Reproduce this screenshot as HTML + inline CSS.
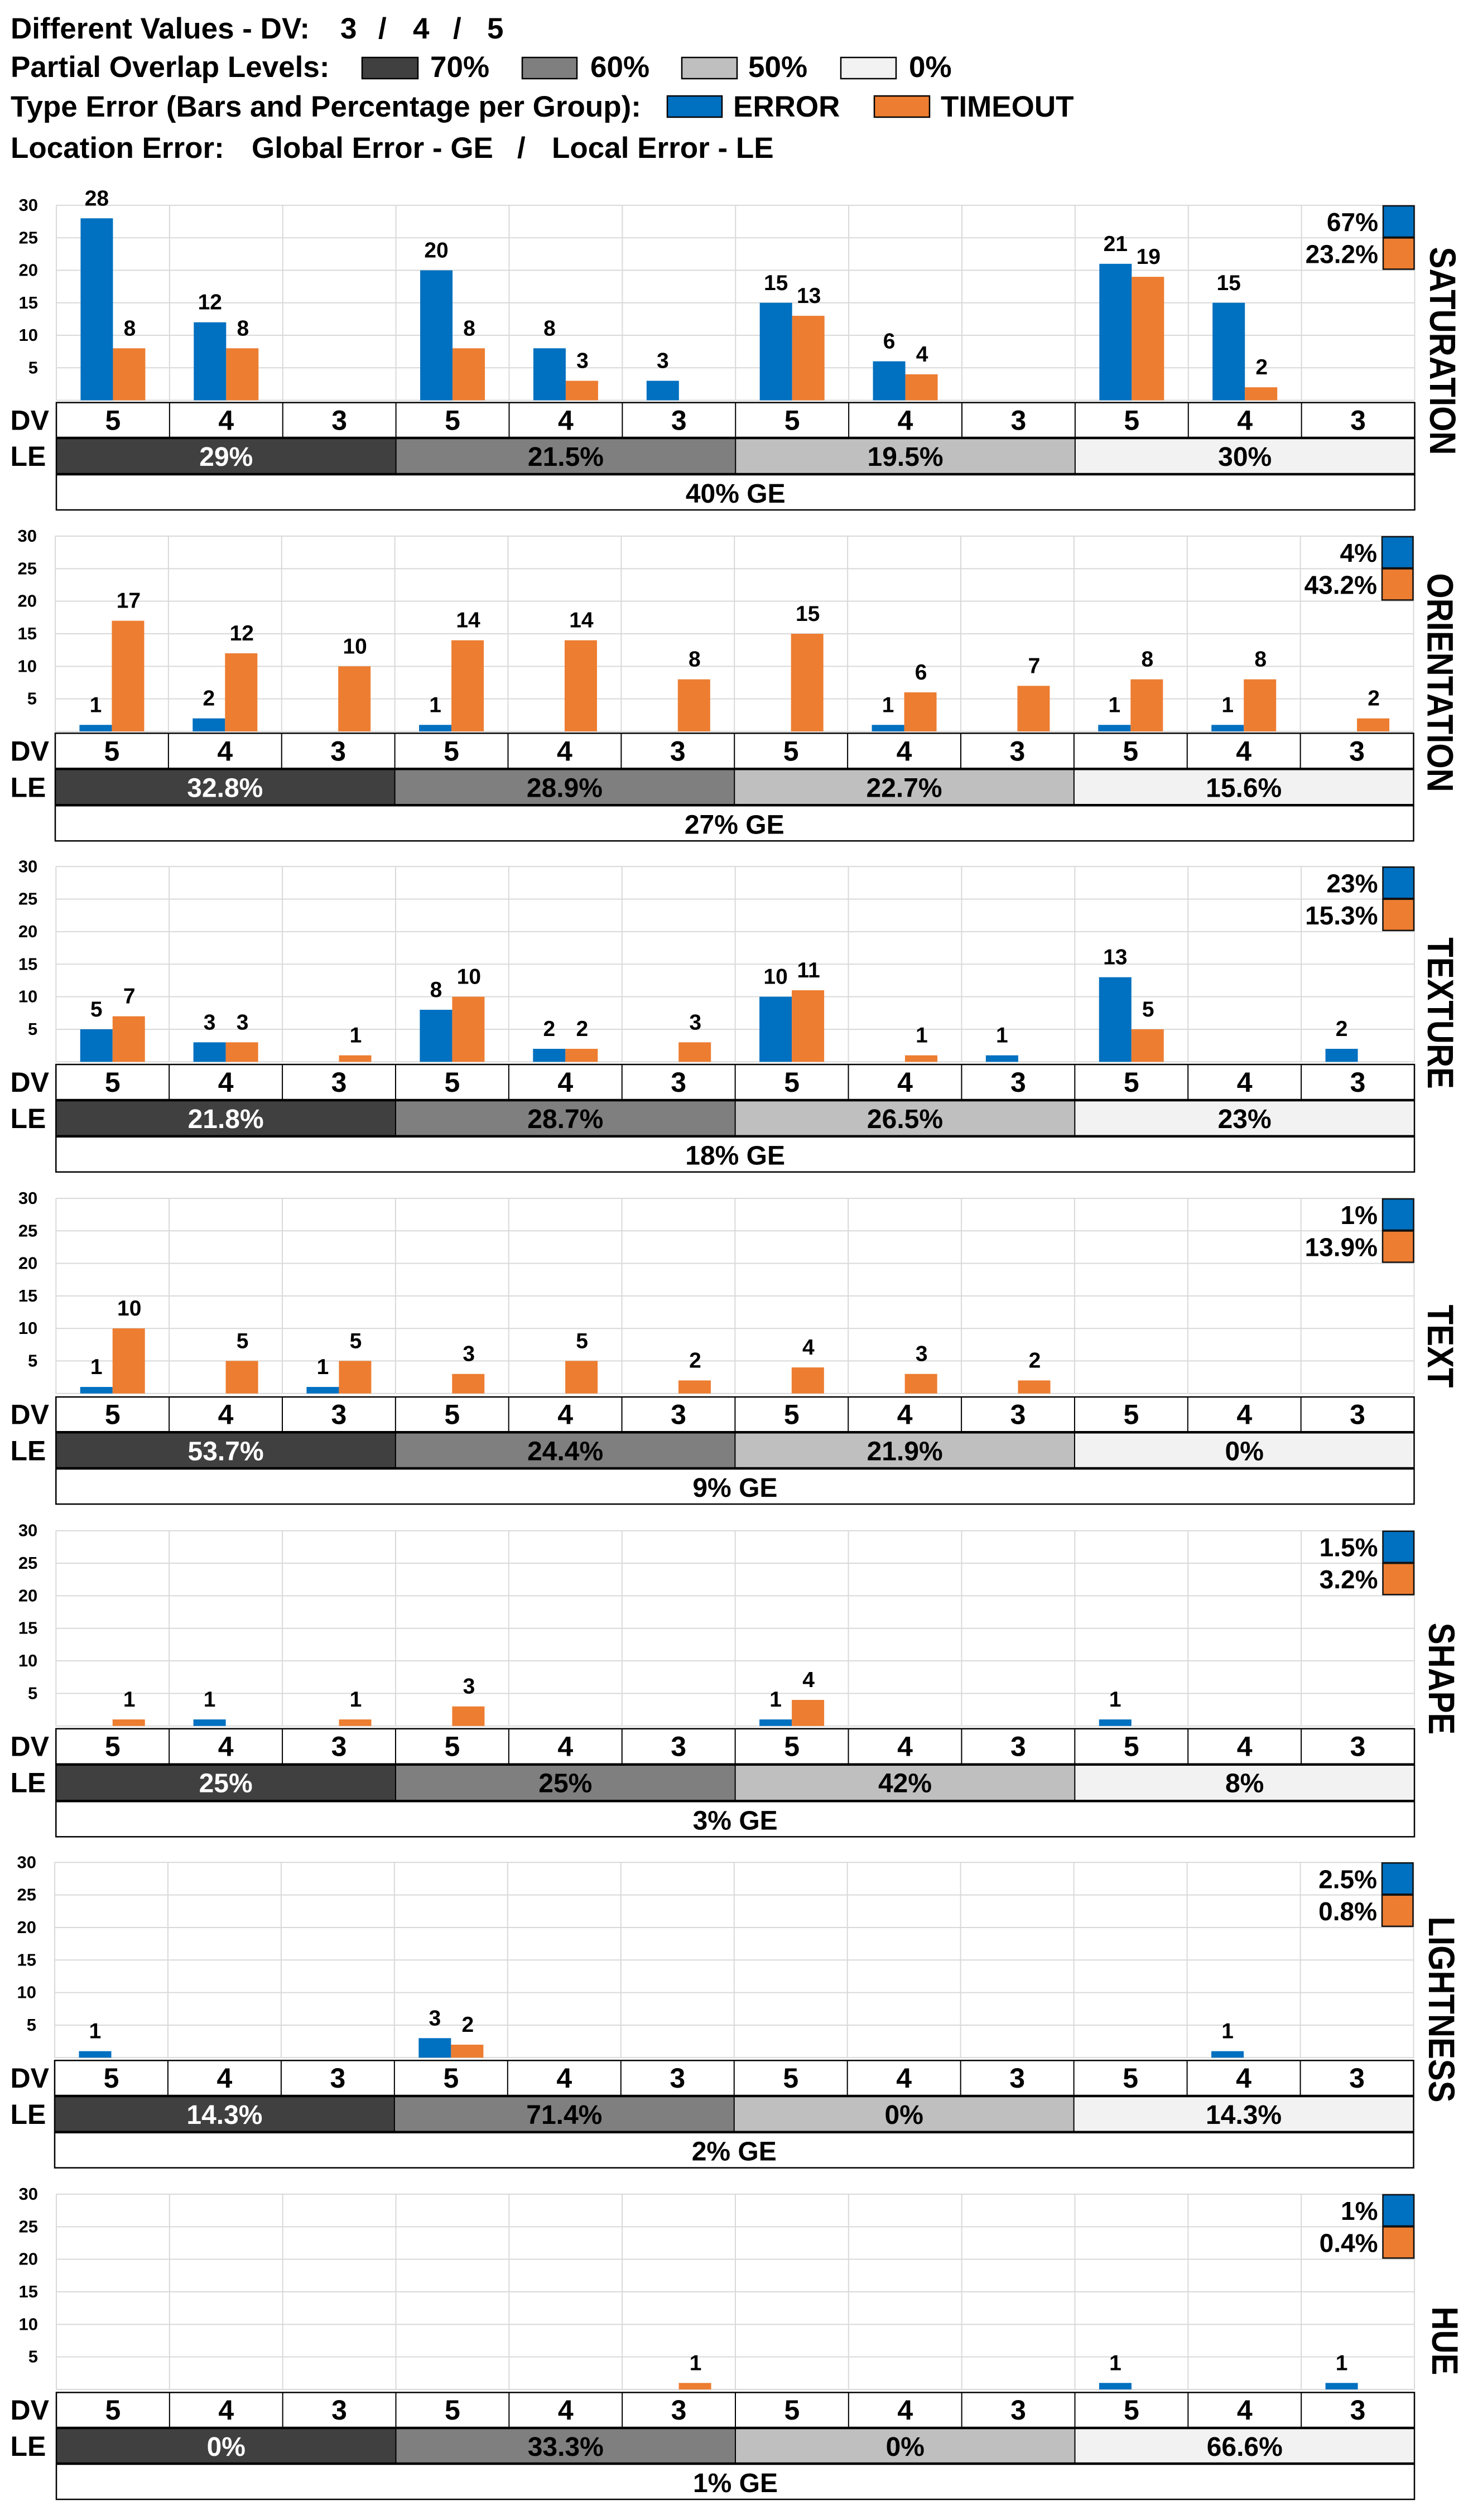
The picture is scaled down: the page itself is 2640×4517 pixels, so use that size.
<!DOCTYPE html>
<html lang="en">
<head>
<meta charset="utf-8">
<title>Error distribution by visual channel</title>
<style>
  html, body { margin: 0; padding: 0; background: #ffffff; }
  svg { display: block; }
  text { font-family: "Liberation Sans", Arial, sans-serif; font-weight: bold; fill: #000000; }
</style>
</head>
<body>
<svg id="chart" xmlns="http://www.w3.org/2000/svg" width="2640" height="4517" viewBox="0 0 2640 4517">
  <rect x="0" y="0" width="2640" height="4517" fill="#ffffff"/>
  <g font-size="53">
    <text x="19" y="69">Different Values - DV:</text>
    <text x="610" y="69">3</text>
    <text x="678" y="69">/</text>
    <text x="740" y="69">4</text>
    <text x="812" y="69">/</text>
    <text x="873" y="69">5</text>

    <text x="19" y="138">Partial Overlap Levels:</text>
    <rect x="649" y="103" width="100" height="38" fill="#404040" stroke="#000" stroke-width="2.5"/>
    <text x="771" y="138">70%</text>
    <rect x="936" y="103" width="98" height="38" fill="#7f7f7f" stroke="#000" stroke-width="2.5"/>
    <text x="1058" y="138">60%</text>
    <rect x="1222" y="103" width="99" height="38" fill="#bfbfbf" stroke="#000" stroke-width="2.5"/>
    <text x="1341" y="138">50%</text>
    <rect x="1507" y="103" width="99" height="38" fill="#f2f2f2" stroke="#000" stroke-width="2.5"/>
    <text x="1629" y="138">0%</text>

    <text x="19" y="209">Type Error (Bars and Percentage per Group):</text>
    <rect x="1196" y="172" width="98" height="38" fill="#0070c0" stroke="#000" stroke-width="2.5"/>
    <text x="1314" y="209">ERROR</text>
    <rect x="1567" y="172" width="99" height="38" fill="#ed7d31" stroke="#000" stroke-width="2.5"/>
    <text x="1686" y="209">TIMEOUT</text>

    <text x="19" y="283">Location Error:</text>
    <text x="451" y="283">Global Error - GE</text>
    <text x="927" y="283">/</text>
    <text x="989" y="283">Local Error - LE</text>
  </g>
  <g id="panels"></g>
</svg>
<script>
// ---- Shared axis data ----
const yTicks = [5, 10, 15, 20, 25, 30];
const yMax = 30;
const dvCategories = ['5', '4', '3', '5', '4', '3', '5', '4', '3', '5', '4', '3'];

// ---- Series values (12 groups: DV 5/4/3 for each overlap level) ----
const saturationError = [28, 12, 0, 20, 8, 3, 15, 6, 0, 21, 15, 0];
const saturationTimeout = [8, 8, 0, 8, 3, 0, 13, 4, 0, 19, 2, 0];
const orientationError = [1, 2, 0, 1, 0, 0, 0, 1, 0, 1, 1, 0];
const orientationTimeout = [17, 12, 10, 14, 14, 8, 15, 6, 7, 8, 8, 2];
const textureError = [5, 3, 0, 8, 2, 0, 10, 0, 1, 13, 0, 2];
const textureTimeout = [7, 3, 1, 10, 2, 3, 11, 1, 0, 5, 0, 0];
const textError = [1, 0, 1, 0, 0, 0, 0, 0, 0, 0, 0, 0];
const textTimeout = [10, 5, 5, 3, 5, 2, 4, 3, 2, 0, 0, 0];
const shapeError = [0, 1, 0, 0, 0, 0, 1, 0, 0, 1, 0, 0];
const shapeTimeout = [1, 0, 1, 3, 0, 0, 4, 0, 0, 0, 0, 0];
const lightnessError = [1, 0, 0, 3, 0, 0, 0, 0, 0, 0, 1, 0];
const lightnessTimeout = [0, 0, 0, 2, 0, 0, 0, 0, 0, 0, 0, 0];
const hueError = [0, 0, 0, 0, 0, 0, 0, 0, 0, 1, 0, 1];
const hueTimeout = [0, 0, 0, 0, 0, 1, 0, 0, 0, 0, 0, 0];

// ---- Printed percentages ----
const saturationLE = ['29%', '21.5%', '19.5%', '30%'];
const orientationLE = ['32.8%', '28.9%', '22.7%', '15.6%'];
const textureLE = ['21.8%', '28.7%', '26.5%', '23%'];
const textLE = ['53.7%', '24.4%', '21.9%', '0%'];
const shapeLE = ['25%', '25%', '42%', '8%'];
const lightnessLE = ['14.3%', '71.4%', '0%', '14.3%'];
const hueLE = ['0%', '33.3%', '0%', '66.6%'];
const geLabels = ['40% GE', '27% GE', '18% GE', '9% GE', '3% GE', '2% GE', '1% GE'];
const errorShares = ['67%', '4%', '23%', '1%', '1.5%', '2.5%', '1%'];
const timeoutShares = ['23.2%', '43.2%', '15.3%', '13.9%', '3.2%', '0.8%', '0.4%'];
const channelTitles = ['SATURATION', 'ORIENTATION', 'TEXTURE', 'TEXT', 'SHAPE', 'LIGHTNESS', 'HUE'];

const errorSeries = [saturationError, orientationError, textureError, textError, shapeError, lightnessError, hueError];
const timeoutSeries = [saturationTimeout, orientationTimeout, textureTimeout, textTimeout, shapeTimeout, lightnessTimeout, hueTimeout];
const leSeries = [saturationLE, orientationLE, textureLE, textLE, shapeLE, lightnessLE, hueLE];

// ---- Layout (separate from data) ----
const frames = [
  { top: 368, bottom: 717.5, left: 101, right: 2535.5, table: 721.6, dv: 785, le: 850, titleX: 2563, titleY: 629 },
  { top: 961, bottom: 1311, left: 99, right: 2533.5, table: 1314.3, dv: 1378.3, le: 1443.3, titleX: 2558.5, titleY: 1223.5 },
  { top: 1553.3, bottom: 1903.3, left: 100.3, right: 2535, table: 1908, dv: 1972, le: 2036.7, titleX: 2559, titleY: 1816 },
  { top: 2148, bottom: 2497.7, left: 100.3, right: 2534.5, table: 2504, dv: 2567.3, le: 2632, titleX: 2559, titleY: 2413 },
  { top: 2743.7, bottom: 3093.7, left: 100.3, right: 2535, table: 3098.7, dv: 3162.7, le: 3228.3, titleX: 2561, titleY: 3009 },
  { top: 3338.3, bottom: 3688.3, left: 98, right: 2533.5, table: 3693.3, dv: 3757, le: 3821.7, titleX: 2561, titleY: 3602 },
  { top: 3933, bottom: 4283, left: 101, right: 2535, table: 4288.4, dv: 4352, le: 4416, titleX: 2567, titleY: 4196 }
];
const BAR_W = 58;
const ROW_GE = 64;
const GRID = '#d9d9d9';
const ERROR_COLOR = '#0070c0';
const TIMEOUT_COLOR = '#ed7d31';
const LEVEL_FILLS = ['#404040', '#7f7f7f', '#bfbfbf', '#f2f2f2'];
const LEVEL_INK = ['#ffffff', '#000000', '#000000', '#000000'];

const NS = 'http://www.w3.org/2000/svg';
const root = document.getElementById('panels');

function make(tag, parent, props, content) {
  const el = document.createElementNS(NS, tag);
  for (const k in props) el.setAttribute(k, props[k]);
  if (content !== undefined) el.textContent = content;
  parent.appendChild(el);
  return el;
}
function yScale(f, v) { return f.bottom - (v / yMax) * (f.bottom - f.top); }
function cellW(f) { return (f.right - f.left) / dvCategories.length; }
function xCell(f, i) { return f.left + i * cellW(f); }
function xCenter(f, i) { return xCell(f, i) + cellW(f) / 2; }

function drawGrid(g, f, key) {
  const grid = make('g', g, { stroke: GRID, 'stroke-width': 2, fill: 'none' });
  
  
  [0].concat(yTicks).forEach(function (t) {
    const y = yScale(f, t);
    const line = make('line', grid, { x1: f.left, x2: f.right, y1: y, y2: y });
    
    
  });
  for (let i = 0; i <= dvCategories.length; i++) {
    const x = xCell(f, i);
    const line = make('line', grid, { x1: x, x2: x, y1: f.top, y2: f.bottom });
    
    
  }
  yTicks.forEach(function (t) {
    const label = make('text', g, { x: f.left - 33, y: yScale(f, t) + 10, 'text-anchor': 'end', 'font-size': 31 }, String(t));
    
    
  });
}

function drawBars(g, f, key, errors, timeouts) {
  dvCategories.forEach(function (_, i) {
    const c = xCenter(f, i);
    if (errors[i] > 0) {
      const top = yScale(f, errors[i]);
      const bar = make('rect', g, { x: c - BAR_W, y: top, width: BAR_W, height: f.bottom - top, fill: ERROR_COLOR });
      
      
      const val = make('text', g, { x: c - BAR_W / 2, y: top - 23, 'text-anchor': 'middle', 'font-size': 39 }, String(errors[i]));
      
      
    }
    if (timeouts[i] > 0) {
      const top = yScale(f, timeouts[i]);
      const bar = make('rect', g, { x: c, y: top, width: BAR_W, height: f.bottom - top, fill: TIMEOUT_COLOR });
      
      
      const val = make('text', g, { x: c + BAR_W / 2 + 1, y: top - 23, 'text-anchor': 'middle', 'font-size': 39 }, String(timeouts[i]));
      
      
    }
  });
}

function drawTable(g, f, key, leLabels, geLabel) {
  const ge = f.le + ROW_GE;
  const w = f.right - f.left;
  const table = make('g', g, {});
  
  

  const rowLabelDV = make('text', table, { x: 18.5, y: (f.table + f.dv) / 2 + 17, 'font-size': 50 }, 'DV');
  
  
  const rowLabelLE = make('text', table, { x: 18.5, y: f.dv + 50, 'font-size': 50 }, 'LE');
  
  

  leLabels.forEach(function (txt, i) {
    const x0 = xCell(f, i * 3);
    const x1 = xCell(f, (i + 1) * 3);
    const cell = make('rect', table, { x: x0, y: f.dv, width: x1 - x0, height: f.le - f.dv, fill: LEVEL_FILLS[i] });
    
    
    const label = make('text', table, { x: (x0 + x1) / 2, y: f.dv + 50, 'text-anchor': 'middle', 'font-size': 48 }, txt);
    label.style.fill = LEVEL_INK[i];
    
    
    if (i > 0) {
      const sep = make('line', table, { x1: x0, x2: x0, y1: f.dv, y2: f.le, stroke: '#000', 'stroke-width': 2 });
      
      
    }
  });

  dvCategories.forEach(function (cat, i) {
    const label = make('text', table, { x: xCenter(f, i), y: (f.table + f.dv) / 2 + 17, 'text-anchor': 'middle', 'font-size': 50 }, cat);
    
    
    if (i > 0) {
      const x = xCell(f, i);
      const sep = make('line', table, { x1: x, x2: x, y1: f.table, y2: f.dv, stroke: '#000', 'stroke-width': 2 });
      
      
    }
  });

  const geLabelEl = make('text', table, { x: f.left + w / 2, y: f.le + 51, 'text-anchor': 'middle', 'font-size': 48 }, geLabel);
  
  

  const frame = make('rect', table, { x: f.left, y: f.table, width: w, height: ge - f.table, fill: 'none', stroke: '#000', 'stroke-width': 2.5 });
  
  
  const l1 = make('line', table, { x1: f.left, x2: f.right, y1: f.dv, y2: f.dv, stroke: '#000', 'stroke-width': 4.5 });
  
  
  const l2 = make('line', table, { x1: f.left, x2: f.right, y1: f.le, y2: f.le, stroke: '#000', 'stroke-width': 4.5 });
  
  
}

function drawShares(g, f, key, errorShare, timeoutShare) {
  const x = f.right - 56.5;
  const h = 56;
  const a = make('rect', g, { x: x, y: f.top + 1, width: 55.5, height: h, fill: ERROR_COLOR, stroke: '#111', 'stroke-width': 2.5 });
  
  
  const b = make('rect', g, { x: x, y: f.top + 1 + h + 1.5, width: 55.5, height: h, fill: TIMEOUT_COLOR, stroke: '#111', 'stroke-width': 2.5 });
  
  
  const t1 = make('text', g, { x: f.right - 65.5, y: f.top + 46, 'text-anchor': 'end', 'font-size': 46 }, errorShare);
  
  
  const t2 = make('text', g, { x: f.right - 65.5, y: f.top + 103.5, 'text-anchor': 'end', 'font-size': 46 }, timeoutShare);
  
  
}

frames.forEach(function (f, p) {
  const key = channelTitles[p].toLowerCase();
  const g = make('g', root, {});
  
  
  drawGrid(g, f, key);
  drawBars(g, f, key, errorSeries[p], timeoutSeries[p]);
  drawTable(g, f, key, leSeries[p], geLabels[p]);
  drawShares(g, f, key, errorShares[p], timeoutShares[p]);
  const title = make('text', g, { transform: 'translate(' + f.titleX + ',' + f.titleY + ') rotate(90) scale(0.97,1.1)', 'text-anchor': 'middle', 'font-size': 60 }, channelTitles[p]);
  
  
});
</script>
</body>
</html>
